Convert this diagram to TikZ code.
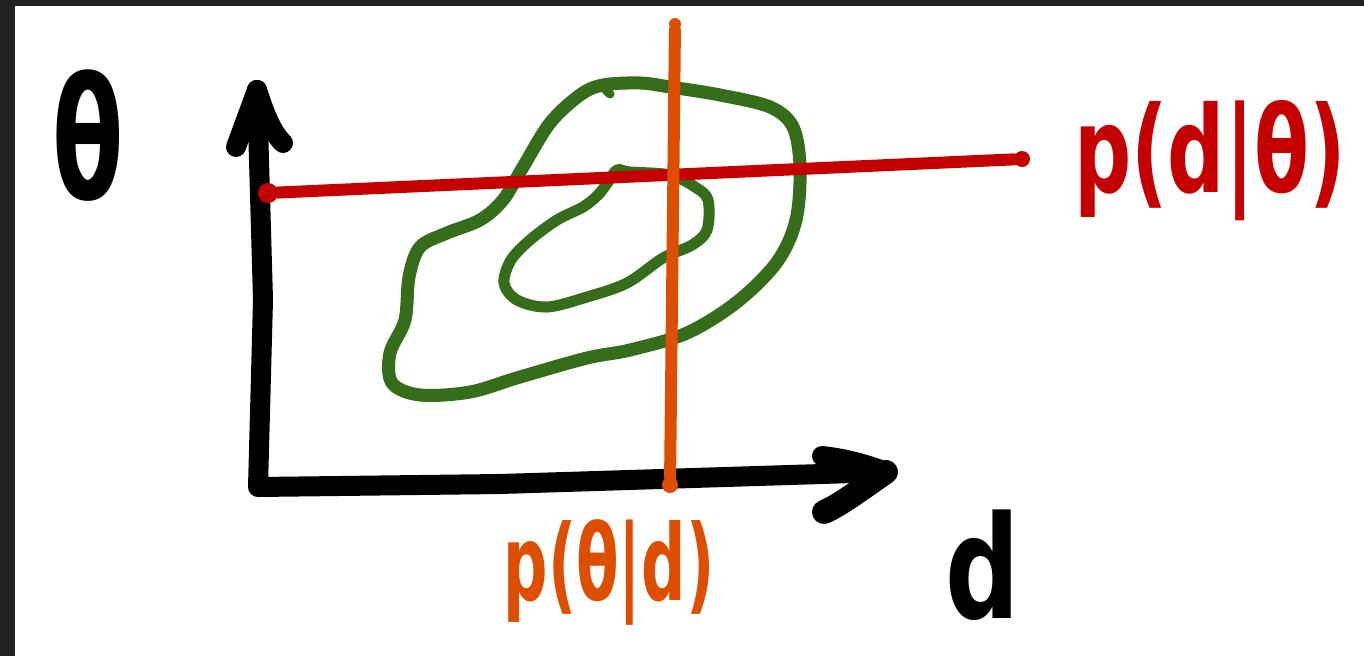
\documentclass[tikz,border=0pt]{standalone}
\usepackage{fontspec}
\setmainfont{DejaVu Sans}
\definecolor{framegray}{HTML}{222222}
\definecolor{sred}{HTML}{C40000}
\definecolor{sorange}{HTML}{DD4E00}
\definecolor{sgreen}{HTML}{366D1A}
\tikzset{
  axisline/.style={line width=20pt, line cap=round, line join=round, black},
  barb/.style={line width=20pt, line cap=round, black},
  hline/.style={line width=12pt, line cap=round, sred},
  vline/.style={line width=12pt, line cap=round, sorange},
  contour/.style={line width=13pt, sgreen, line join=round},
  enddot/.style={circle, inner sep=0pt, minimum size=20pt},
  lbl/.style={inner sep=0pt, font=\bfseries},
}
\begin{document}
\begin{tikzpicture}[x=1pt,y=-1pt]
\useasboundingbox (0,0) rectangle (1364,656);
\fill[framegray] (0,0) rectangle (1364,656);
\fill[white] (15,6) rectangle (1364,656);

% green contours
\draw[contour] plot[smooth cycle, tension=0.55] coordinates {
 (603,85) (640,83) (670,87) (720,95) (770,107) (793,127) (800,167) (796,220)
 (777,262) (737,302) (687,333) (630,350) (587,358) (520,377) (470,392) (420,395)
 (392,383) (390,353) (405,320) (409,277) (420,247) (447,233) (480,220) (503,200)
 (523,167) (550,123) (580,95)};
\draw[contour, line width=9pt, line cap=round] (603,87) -- (610,94);
\draw[contour, line width=11pt] plot[smooth cycle, tension=0.55] coordinates {
 (617,170) (608,182) (598,195) (583,207) (557,220) (530,240) (511,260) (504,283)
 (517,300) (547,307) (587,297) (627,283) (663,258) (692,245) (707,230) (708,200)
 (695,187) (670,175) (630,172)};

% axes
\coordinate (origin) at (258,487);
\coordinate (ytip) at (257,90);
\coordinate (xtip) at (886,472);
\draw[axisline] (ytip) -- (263,300) -- (origin) -- (500,484) -- (xtip);
\draw[barb] (ytip) -- (236,147);
\draw[barb] (ytip) .. controls (265,115) and (272,132) .. (283,143);
\draw[barb] (xtip) .. controls (860,462) and (840,458) .. (822,456);
\draw[barb, line width=24pt] (xtip) .. controls (860,490) and (840,505) .. (824,512);

% red horizontal line
\node[enddot, fill=sred] (rl) at (268,193) {};
\node[enddot, fill=sred, minimum size=16pt] (rr) at (1022,159) {};
\draw[hline] (rl) -- (rr);

% orange vertical line
\node[enddot, fill=sorange, minimum size=12pt] (ot) at (675,24) {};
\node[enddot, fill=sorange, minimum size=16pt] (ob) at (670,485) {};
\draw[vline] (ot) -- (ob);

% labels
\node[lbl, black, font=\bfseries\fontsize{130}{130}\selectfont, xscale=0.8, yscale=1.3] (theta) at (88,136) {θ};
\node[lbl, sred, font=\bfseries\fontsize{80}{80}\selectfont, anchor=base, yscale=1.5] (pdt) at (1210,192) {p(d|θ)};
\node[lbl, sorange, font=\bfseries\fontsize{62}{62}\selectfont, anchor=base, yscale=1.7] (ptd) at (609,600) {p(θ|d)};
\node[lbl, black, font=\bfseries\fontsize{130}{130}\selectfont, anchor=base, xscale=0.8, yscale=1.1] (dl) at (983,618) {d};
\end{tikzpicture}
\end{document}
